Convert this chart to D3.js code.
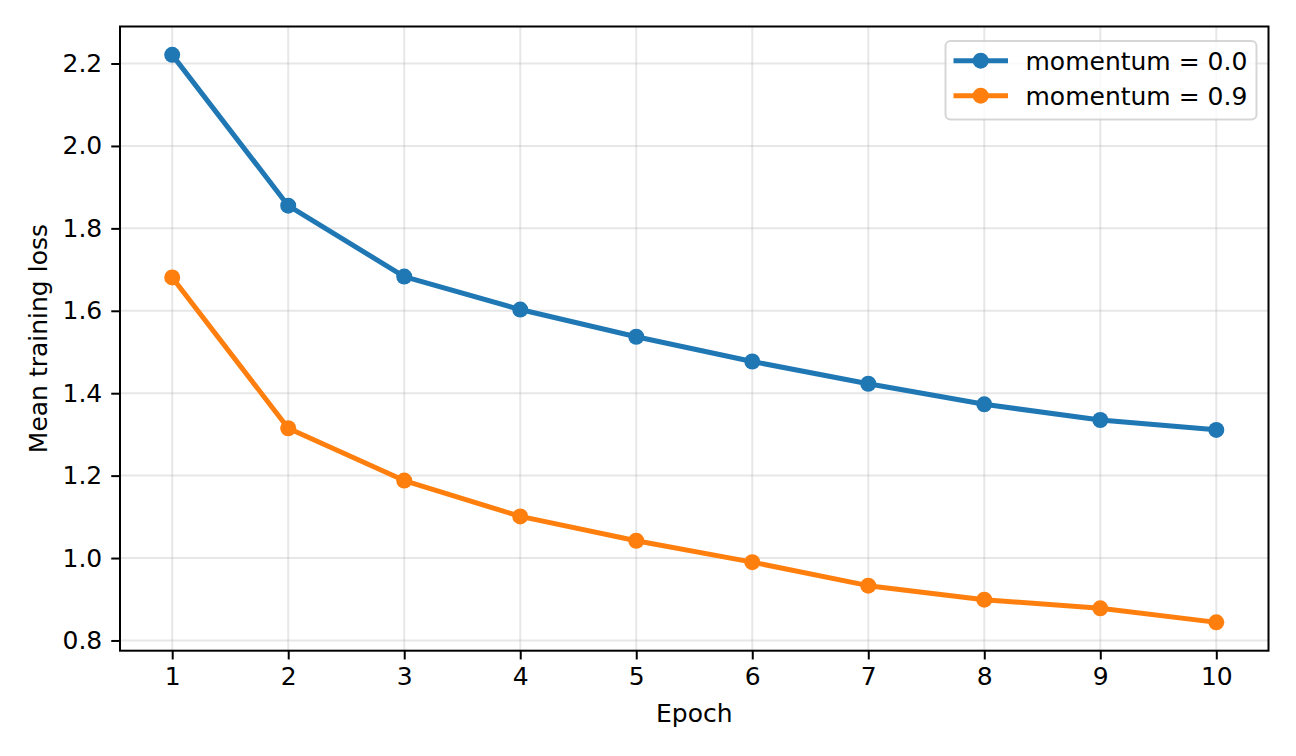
<!DOCTYPE html>
<html>
<head>
<meta charset="utf-8">
<script src="https://cdn.jsdelivr.net/npm/d3@7"></script>
<style>
  html, body { margin: 0; padding: 0; background: #fff; }
  svg { display: block; font-family: "DejaVu Sans", sans-serif; }
</style>
</head>
<body>
<svg id="chart" width="1296" height="756"></svg>
<script>
const epochs = [1, 2, 3, 4, 5, 6, 7, 8, 9, 10];
const lossMomentum0 = [2.221, 1.855, 1.683, 1.603, 1.537, 1.477, 1.423, 1.373, 1.335, 1.311];
const lossMomentum9 = [1.681, 1.315, 1.188, 1.101, 1.042, 0.990, 0.933, 0.899, 0.878, 0.844];
const seriesNames = ["momentum = 0.0", "momentum = 0.9"];
const seriesColors = ["#1f77b4", "#ff7f0e"];
const yTicks = [0.8, 1.0, 1.2, 1.4, 1.6, 1.8, 2.0, 2.2];
const xLabel = "Epoch";
const yLabel = "Mean training loss";

const series = [lossMomentum0, lossMomentum9].map((vals, i) => ({
  name: seriesNames[i], color: seriesColors[i],
  points: vals.map((v, j) => ({ x: epochs[j], y: v }))
}));

const svg = d3.select("#chart");
const L = 120, R = 1268.5, T = 26.5, B = 650.7;
const fs = 25;

const xMin = d3.min(epochs), xMax = d3.max(epochs);
const xPad = (xMax - xMin) * 0.05;
const allY = lossMomentum0.concat(lossMomentum9);
const yMin = d3.min(allY), yMax = d3.max(allY);
const yPad = (yMax - yMin) * 0.05;

const x = d3.scaleLinear().domain([xMin - xPad, xMax + xPad]).range([L, R]);
const y = d3.scaleLinear().domain([yMin - yPad, yMax + yPad]).range([B, T]);

// grid
const grid = svg.append("g");
grid.selectAll("line.gx").data(epochs).enter().append("line")
  .attr("x1", d => x(d)).attr("x2", d => x(d)).attr("y1", T).attr("y2", B)
  .attr("stroke", "#b0b0b0").attr("stroke-opacity", 0.3).attr("stroke-width", 2);
grid.selectAll("line.gy").data(yTicks).enter().append("line")
  .attr("y1", d => y(d)).attr("y2", d => y(d)).attr("x1", L).attr("x2", R)
  .attr("stroke", "#b0b0b0").attr("stroke-opacity", 0.3).attr("stroke-width", 2);

// axes
const xAxis = d3.axisBottom(x).tickValues(epochs).tickFormat(d3.format("d")).tickSize(8.75).tickPadding(7.5);
const yAxis = d3.axisLeft(y).tickValues(yTicks).tickFormat(d3.format(".1f")).tickSize(8.75).tickPadding(9);

const gx = svg.append("g").attr("transform", `translate(0,${B})`).call(xAxis);
const gy = svg.append("g").attr("transform", `translate(${L},0)`).call(yAxis);
[gx, gy].forEach(g => {
  g.select(".domain").remove();
  g.attr("font-size", fs).attr("font-family", "DejaVu Sans, sans-serif");
  g.selectAll(".tick line").attr("stroke", "#000").attr("stroke-width", 2);
  g.selectAll(".tick text").attr("fill", "#000").attr("font-size", fs)
    .attr("font-family", "DejaVu Sans, sans-serif");
});

// lines and markers
const line = d3.line().x(d => x(d.x)).y(d => y(d.y));
series.forEach(s => {
  svg.append("path").datum(s.points).attr("d", line)
    .attr("fill", "none").attr("stroke", s.color).attr("stroke-width", 5)
    .attr("stroke-linejoin", "round").attr("stroke-linecap", "square");
  svg.append("g").selectAll("circle").data(s.points).enter().append("circle")
    .attr("cx", d => x(d.x)).attr("cy", d => y(d.y)).attr("r", 8)
    .attr("fill", s.color);
});

// frame
svg.append("rect").attr("x", L).attr("y", T).attr("width", R - L).attr("height", B - T)
  .attr("fill", "none").attr("stroke", "#000").attr("stroke-width", 2);

// labels
svg.append("text").attr("x", (L + R) / 2).attr("y", 721.5).attr("text-anchor", "middle")
  .attr("font-size", fs).attr("fill", "#000").text(xLabel);
svg.append("text").attr("transform", `translate(46.5,${(T + B) / 2}) rotate(-90)`)
  .attr("text-anchor", "middle").attr("font-size", fs).attr("fill", "#000").text(yLabel);

// legend
const lg = svg.append("g");
lg.append("rect").attr("x", 945.5).attr("y", 41).attr("width", 311).attr("height", 78.5)
  .attr("rx", 5).attr("ry", 5).attr("fill", "#fff").attr("fill-opacity", 0.8)
  .attr("stroke", "#cccccc").attr("stroke-opacity", 0.8).attr("stroke-width", 2);
series.forEach((s, i) => {
  const cy = 60.7 + i * 35;
  lg.append("line").attr("x1", 953.5).attr("x2", 1008).attr("y1", cy).attr("y2", cy)
    .attr("stroke", s.color).attr("stroke-width", 5);
  lg.append("circle").attr("cx", 980.7).attr("cy", cy).attr("r", 8).attr("fill", s.color);
  lg.append("text").attr("x", 1025.5).attr("y", cy + 9).attr("font-size", fs)
    .attr("fill", "#000").text(s.name);
});
</script>
</body>
</html>
